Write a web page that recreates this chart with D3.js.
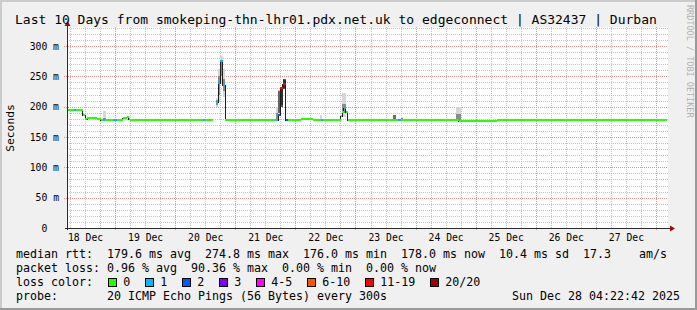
<!DOCTYPE html>
<html>
<head>
<meta charset="utf-8">
<script src="https://cdn.jsdelivr.net/npm/d3@7"></script>
<style>
  body { margin: 0; background: #f0f0f0; }
  svg text { font-family: "DejaVu Sans Mono", monospace; white-space: pre; }
</style>
</head>
<body>
<div id="chart"></div>
<script>
// median rtt, one sample holds until the next sample time (null = no data)
var sampleTimes = [
  '2025-12-18 04:48', '2025-12-18 07:36', '2025-12-18 08:24', '2025-12-18 11:00', '2025-12-18 12:00',
  '2025-12-18 12:48', '2025-12-18 16:48', '2025-12-18 18:12', '2025-12-18 19:12', '2025-12-18 20:00',
  '2025-12-18 23:12', '2025-12-19 00:48', '2025-12-19 03:00', '2025-12-19 04:36', '2025-12-19 05:24',
  '2025-12-19 06:00', '2025-12-20 11:12', '2025-12-20 12:00', '2025-12-20 15:06', '2025-12-20 16:18',
  '2025-12-20 17:12', '2025-12-20 18:00', '2025-12-20 18:54', '2025-12-20 19:54', '2025-12-21 16:24',
  '2025-12-21 17:12', '2025-12-21 18:00', '2025-12-21 19:00', '2025-12-21 20:06', '2025-12-21 21:06',
  '2025-12-22 02:06', '2025-12-22 07:06', '2025-12-22 10:24', '2025-12-22 11:12', '2025-12-22 18:06',
  '2025-12-22 18:42', '2025-12-22 19:18', '2025-12-22 20:12', '2025-12-22 21:00', '2025-12-23 16:54',
  '2025-12-23 18:00', '2025-12-24 17:12', '2025-12-25 08:24', '2025-12-28 04:24'
];
var medianMs = [
  194, 194, 194, 186, 179,
  182, 180, 177.8, 177.8, 177.8,
  177.8, 177.8, 181, 182.5, 179,
  177.8, 177.8, 177.8, null, 208,
  238.5, 274.8, 235.5, 177.8, 177.8,
  186, 231, 237, 177.8, 177.8,
  180.2, 177.8, 177.8, 177.8, 184,
  192, 197.3, 192, 177.8, 177.8,
  177.8, 176.0, 178.0, 178.0
];
var lostPings = [
  0, 1, 0, 0, 0,
  0, 0, 0, 1, 0,
  1, 0, 0, 0, 0,
  0, 1, 0, 0, 1,
  1, 1, 1, 0, 1,
  2, 17, 17, 2, 0,
  0, 0, 1, 0, 0,
  0, 1, 0, 0, 1,
  0, 0, 0, 0
];

// smoke: spread of the single pings in a time slot
var smokeStart = ['2025-12-18 19:12', '2025-12-20 16:18', '2025-12-20 17:12', '2025-12-20 18:00', '2025-12-20 18:54',
  '2025-12-21 16:24', '2025-12-21 17:12', '2025-12-21 18:00', '2025-12-21 19:00', '2025-12-22 10:00',
  '2025-12-22 18:42', '2025-12-23 14:54', '2025-12-23 18:00', '2025-12-24 16:12'];
var smokeEnd = ['2025-12-18 20:12', '2025-12-20 17:12', '2025-12-20 18:00', '2025-12-20 18:54', '2025-12-20 19:54',
  '2025-12-21 17:12', '2025-12-21 18:00', '2025-12-21 19:00', '2025-12-21 20:06', '2025-12-22 10:48',
  '2025-12-22 20:12', '2025-12-23 16:12', '2025-12-23 19:06', '2025-12-24 18:18'];
var smokeLow  = [177, 199, 208, 238, 216, 178, 186, 200, 229, 177, 183, 178, 178, 177];
var smokeQ1   = [178, 203, 220, 250, 225, 180, 190, 203, 230, 178, 190, 178, 178, 178];
var smokeQ3   = [182, 211, 250, 276, 245, 190, 226, 231, 244, 180, 205, 186, 182, 188];
var smokeHigh = [193, 214, 262, 284, 262, 200, 228, 232, 246, 186, 223, 186, 183, 199];
var smokePings = [19, 19, 19, 19, 19, 19, 12, 3, 3, 19, 19, 14, 19, 19];

var lossLabels = ['0', '1', '2', '3', '4-5', '6-10', '11-19', '20/20'];
var lossUpper  = [0, 1, 2, 3, 5, 10, 19, 20];
var lossColors = ['#26ff00', '#00b8ff', '#0059ff', '#7e00ff', '#ff00ff', '#ff5500', '#ff0000', '#a00000'];

var yTicks = [0, 50, 100, 150, 200, 250, 300];
var dayTicks = ['2025-12-18 12:00', '2025-12-19 12:00', '2025-12-20 12:00', '2025-12-21 12:00', '2025-12-22 12:00',
  '2025-12-23 12:00', '2025-12-24 12:00', '2025-12-25 12:00', '2025-12-26 12:00', '2025-12-27 12:00'];
var timeStart = '2025-12-18 04:48', timeEnd = '2025-12-28 04:48';

var titleText = 'Last 10 Days from smokeping-thn-lhr01.pdx.net.uk to edgeconnect | AS32437 | Durban';
var statsRtt  = 'median rtt:  179.6 ms avg  274.8 ms max  176.0 ms min  178.0 ms now  10.4 ms sd  17.3    am/s';
var statsLoss = 'packet loss: 0.96 % avg  90.36 % max  0.00 % min  0.00 % now';
var probeText = 'probe:       20 ICMP Echo Pings (56 Bytes) every 300s';
var stampText = 'Sun Dec 28 04:22:42 2025';

var W = 697, H = 310;
var plot = {left: 67, right: 668, top: 27, bottom: 228};
var parse = d3.utcParse('%Y-%m-%d %H:%M');

var svg = d3.select('#chart').append('svg')
    .attr('width', W).attr('height', H);

// frame with the rrdtool shading
svg.append('rect').attr('width', W).attr('height', H).attr('fill', '#f0f0f0');
svg.append('rect').attr('x', 0).attr('y', 0).attr('width', W).attr('height', 2).attr('fill', '#cbcbcb');
svg.append('rect').attr('x', 0).attr('y', 0).attr('width', 2).attr('height', H).attr('fill', '#cbcbcb');
svg.append('rect').attr('x', 0).attr('y', H - 2).attr('width', W).attr('height', 2).attr('fill', '#999');
svg.append('rect').attr('x', W - 2).attr('y', 0).attr('width', 2).attr('height', H).attr('fill', '#999');

svg.append('rect')
    .attr('x', plot.left).attr('y', plot.top)
    .attr('width', plot.right - plot.left).attr('height', plot.bottom - plot.top)
    .attr('fill', '#fff');

var x = d3.scaleUtc()
    .domain([parse(timeStart), parse(timeEnd)])
    .range([plot.left, plot.right]);
var y = d3.scaleLinear()
    .domain([0, 331.3])
    .range([plot.bottom, plot.top]);

// grid
var grid = svg.append('g').attr('shape-rendering', 'crispEdges');
var minorY = d3.range(10, 331, 10).filter(function(v){ return v % 50 !== 0; });
var majorY = d3.range(50, 331, 50);
grid.selectAll('.hmin').data(minorY).enter().append('line')
    .attr('x1', plot.left).attr('x2', plot.right)
    .attr('y1', function(d){ return Math.round(y(d)) + 0.5; })
    .attr('y2', function(d){ return Math.round(y(d)) + 0.5; })
    .attr('stroke', '#c4c4c4').attr('stroke-dasharray', '1,1');

var sixHours = d3.utcHour.every(6).range(x.domain()[0], x.domain()[1])
    .filter(function(d){ return d.getUTCHours() !== 0; });
var midnights = d3.utcDay.range(x.domain()[0], x.domain()[1]);
grid.selectAll('.vmin').data(sixHours).enter().append('line')
    .attr('x1', function(d){ return Math.round(x(d)) + 0.5; })
    .attr('x2', function(d){ return Math.round(x(d)) + 0.5; })
    .attr('y1', plot.top).attr('y2', plot.bottom)
    .attr('stroke', '#c4c4c4').attr('stroke-dasharray', '1,1');

grid.selectAll('.hmaj').data(majorY).enter().append('line')
    .attr('x1', plot.left - 3).attr('x2', plot.right)
    .attr('y1', function(d){ return Math.round(y(d)) + 0.5; })
    .attr('y2', function(d){ return Math.round(y(d)) + 0.5; })
    .attr('stroke', '#e29090').attr('stroke-dasharray', '1,1');
grid.selectAll('.vmaj').data(midnights).enter().append('line')
    .attr('x1', function(d){ return Math.round(x(d)) + 0.5; })
    .attr('x2', function(d){ return Math.round(x(d)) + 0.5; })
    .attr('y1', plot.top).attr('y2', plot.bottom + 3)
    .attr('stroke', '#e29090').attr('stroke-dasharray', '1,1');

// smoke
var shade = d3.scaleLinear().domain([3, 19]).range(['#2e2e2e', '#8a8a8a']).clamp(true);
var smoke = svg.append('g').attr('shape-rendering', 'crispEdges');
smokeStart.forEach(function(s, i){
  var x0 = x(parse(s)), x1 = x(parse(smokeEnd[i]));
  smoke.append('rect')
      .attr('x', x0).attr('width', x1 - x0)
      .attr('y', y(smokeHigh[i])).attr('height', y(smokeLow[i]) - y(smokeHigh[i]))
      .attr('fill', smokePings[i] < 10 ? '#555' : '#d6d6d6');
  smoke.append('rect')
      .attr('x', x0).attr('width', x1 - x0)
      .attr('y', y(smokeQ3[i])).attr('height', y(smokeQ1[i]) - y(smokeQ3[i]))
      .attr('fill', shade(smokePings[i]));
});

// median: thin dark step line, then loss coloured pieces on top
var pts = sampleTimes.map(function(t, i){
  return {t: parse(t), v: medianMs[i], loss: lostPings[i]};
});
var p = d3.path();
var pen = false;
for (var i = 0; i < pts.length - 1; i++) {
  var a = pts[i], b = pts[i + 1];
  if (a.v === null) { pen = false; continue; }
  if (!pen) { p.moveTo(x(a.t), Math.round(y(a.v)) + 0.5); pen = true; }
  p.lineTo(x(b.t), Math.round(y(a.v)) + 0.5);
  if (b.v !== null) p.lineTo(x(b.t), Math.round(y(b.v)) + 0.5);
}
svg.append('path').attr('d', p.toString())
    .attr('fill', 'none').attr('stroke', '#202020').attr('stroke-width', 1)
    .attr('shape-rendering', 'crispEdges');

function lossColor(n) {
  for (var k = 0; k < lossUpper.length; k++) if (n <= lossUpper[k]) return lossColors[k];
  return lossColors[lossColors.length - 1];
}
var segs = pts.slice(0, -1).map(function(d, i){ return {a: d, b: pts[i + 1]}; })
    .filter(function(s){ return s.a.v !== null; });
svg.append('g').selectAll('line').data(segs).enter().append('line')
    .attr('x1', function(s){ return x(s.a.t); })
    .attr('x2', function(s){ return x(s.b.t); })
    .attr('y1', function(s){ return Math.round(y(s.a.v)); })
    .attr('y2', function(s){ return Math.round(y(s.a.v)); })
    .attr('stroke', function(s){ return lossColor(s.a.loss); })
    .attr('stroke-width', 2)
    .attr('shape-rendering', 'crispEdges');

// axes
var axisCol = '#2c2c2c', arrowCol = '#8b1010';
svg.append('line').attr('x1', plot.left + 0.5).attr('x2', plot.left + 0.5)
    .attr('y1', plot.bottom + 2).attr('y2', plot.top - 3)
    .attr('stroke', axisCol).attr('shape-rendering', 'crispEdges');
svg.append('line').attr('x1', plot.left - 2).attr('x2', plot.right + 4)
    .attr('y1', plot.bottom + 0.5).attr('y2', plot.bottom + 0.5)
    .attr('stroke', axisCol).attr('shape-rendering', 'crispEdges');
svg.append('path')
    .attr('d', 'M' + (plot.left + 0.5) + ',' + (plot.top - 6) + 'l-3,5h6z')
    .attr('fill', arrowCol);
svg.append('path')
    .attr('d', 'M' + (plot.right + 7) + ',' + (plot.bottom + 0.5) + 'l-5,-3v6z')
    .attr('fill', arrowCol);

var yAxis = svg.append('g')
    .attr('transform', 'translate(59,0)')
    .call(d3.axisLeft(y).tickValues(yTicks).tickSize(0).tickPadding(0)
      .tickFormat(function(d){ return d === 0 ? '0  ' : d + ' m'; }));
yAxis.select('.domain').remove();
yAxis.selectAll('text').attr('font-family', 'DejaVu Sans Mono').attr('font-size', '9.75px').attr('fill', '#000');

var xAxis = svg.append('g')
    .attr('transform', 'translate(0,' + plot.bottom + ')')
    .call(d3.axisBottom(x).tickValues(dayTicks.map(parse)).tickSize(0).tickPadding(6)
      .tickFormat(d3.utcFormat('%d %b')));
xAxis.select('.domain').remove();
xAxis.selectAll('text').attr('font-family', 'DejaVu Sans Mono').attr('font-size', '9.75px').attr('fill', '#000');

// texts
svg.append('text').text(titleText)
    .attr('x', 15).attr('y', 24).attr('font-size', '13px');
svg.append('text').text('Seconds')
    .attr('transform', 'translate(14,128) rotate(-90)')
    .attr('text-anchor', 'middle').attr('font-size', '11.3px');
svg.append('text').text('RRDTOOL / TOBI OETIKER')
    .attr('transform', 'translate(687,5) rotate(90)')
    .attr('font-size', '8.5px').attr('fill', '#b0b0b0');

var lg = svg.append('g').attr('font-size', '11.63px');
lg.append('text').text(statsRtt).attr('x', 16).attr('y', 258);
lg.append('text').text(statsLoss).attr('x', 16).attr('y', 272);
lg.append('text').text('loss color:').attr('x', 16).attr('y', 286);
lg.append('text').text(probeText).attr('x', 16).attr('y', 300);
lg.append('text').text(stampText).attr('x', 680).attr('y', 300).attr('text-anchor', 'end');

var charW = 7.0, tx = 123.3;
lossLabels.forEach(function(lbl, i){
  lg.append('rect')
      .attr('x', tx - 14.5).attr('y', 278.5).attr('width', 8).attr('height', 8)
      .attr('fill', lossColors[i]).attr('stroke', '#000').attr('shape-rendering', 'crispEdges');
  lg.append('text').text(lbl).attr('x', tx).attr('y', 286);
  tx += lbl.length * charW + 30;
});
</script>
</body>
</html>
